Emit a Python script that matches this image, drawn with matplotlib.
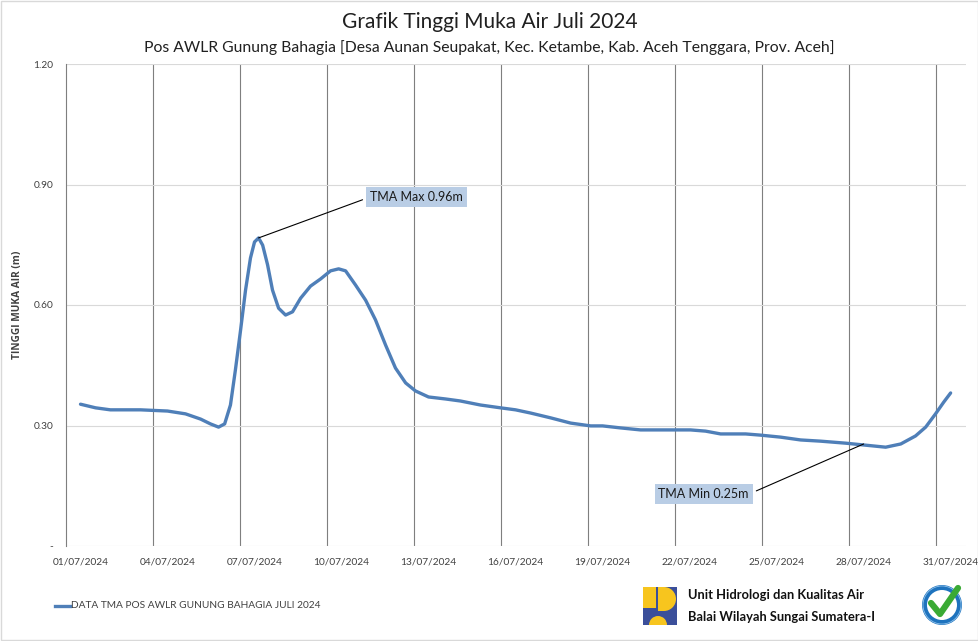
import matplotlib
matplotlib.use('Agg')
import matplotlib.pyplot as plt
from matplotlib.patches import Rectangle, Circle, Wedge

plt.rcParams['font.family'] = ['Lato', 'DejaVu Sans']

# data (day of July 2024, water level in m)
days = [1.00, 1.52, 2.03, 3.07, 4.00, 4.62, 5.14, 5.48, 5.76, 5.97, 6.17, 6.34,
        6.52, 6.69, 6.86, 7.00, 7.14, 7.28, 7.45, 7.62, 7.83, 8.07, 8.31, 8.59,
        8.93, 9.28, 9.62, 9.90, 10.14, 10.48, 10.83, 11.17, 11.52, 11.86, 12.21,
        12.55, 13.00, 13.59, 14.10, 14.79, 15.48, 16.00, 16.52, 17.21, 17.90,
        18.59, 19.00, 19.62, 20.31, 21.17, 22.03, 22.55, 23.07, 23.93, 24.45,
        25.14, 25.83, 26.52, 27.38, 28.07, 28.76, 29.28, 29.79, 30.14, 30.48,
        30.76, 31.00]
tma = [0.353, 0.344, 0.339, 0.339, 0.336, 0.329, 0.316, 0.304, 0.296, 0.304,
       0.351, 0.438, 0.538, 0.637, 0.717, 0.757, 0.767, 0.749, 0.700, 0.637,
       0.592, 0.575, 0.583, 0.617, 0.647, 0.665, 0.685, 0.690, 0.685, 0.650,
       0.612, 0.563, 0.500, 0.443, 0.406, 0.386, 0.371, 0.366, 0.361, 0.351,
       0.344, 0.339, 0.331, 0.319, 0.306, 0.299, 0.299, 0.294, 0.289, 0.289,
       0.289, 0.286, 0.279, 0.279, 0.276, 0.271, 0.264, 0.261, 0.256, 0.251,
       0.246, 0.254, 0.274, 0.296, 0.329, 0.358, 0.381]

tick_days = [1, 4, 7, 10, 13, 16, 19, 22, 25, 28, 31]
tick_labels = ['%02d/07/2024' % d for d in tick_days]
y_ticks = [0, 0.3, 0.6, 0.9, 1.2]
y_labels = ['-', '0.30', '0.60', '0.90', '1.20']

max_label = 'TMA Max 0.96m'
min_label = 'TMA Min 0.25m'
min_point = (28.0, 0.254)

W, H = 979, 641
fig = plt.figure(figsize=(W / 100, H / 100), dpi=100)


def fx(x):
    return x / W


def fy(y):
    return 1 - y / H


ax = fig.add_axes([fx(66), fy(546), fx(966) - fx(66), fy(64) - fy(546)])
line_color = '#4F7FB8'
ax.plot(days, tma, color=line_color, lw=2.4, solid_capstyle='round',
        solid_joinstyle='round', zorder=3)

ax.set_xlim(0.5, 31.53)
ax.set_ylim(0, 1.2)
ax.set_xticks(tick_days)
ax.set_xticklabels(tick_labels, fontsize=7.3, color='#404040')
ax.set_xticks([0.5 + 3 * k for k in range(1, 11)], minor=True)
ax.set_yticks(y_ticks)
ax.set_yticklabels(y_labels, fontsize=7.3, color='#404040')
ax.tick_params(axis='x', which='both', length=0, pad=8)
ax.tick_params(axis='y', which='both', length=0, pad=9)
ax.grid(axis='y', color='#d9d9d9', lw=0.8)
ax.grid(axis='x', which='minor', color='#7f7f7f', lw=0.8)
ax.set_axisbelow(True)
for s in ['top', 'right', 'bottom']:
    ax.spines[s].set_visible(False)
ax.spines['left'].set_color('#7f7f7f')
fig.text(fx(18), fy(305), 'TINGGI MUKA AIR (m)', rotation=90, ha='center',
         va='center', fontsize=7.3, fontweight='bold', color='#404040',
         family=['Open Sans', 'DejaVu Sans'])

# annotations
i_max = tma.index(max(tma))
box = dict(boxstyle='square,pad=0.3', fc='#B9CDE5', ec='none')
ax.annotate(max_label, xy=(days[i_max], tma[i_max]), xytext=(12.59, 0.869),
            fontsize=9, color='#1a1a1a', ha='center', va='center', bbox=box,
            arrowprops=dict(arrowstyle='-', color='black', lw=0.8,
                            relpos=(0, 0.5), shrinkA=3, shrinkB=0))
ax.annotate(min_label, xy=min_point, xytext=(22.48, 0.129),
            fontsize=9, color='#1a1a1a', ha='center', va='center', bbox=box,
            arrowprops=dict(arrowstyle='-', color='black', lw=0.8,
                            relpos=(1, 0.5), shrinkA=3, shrinkB=0))

# titles
fig.text(0.5, fy(22), 'Grafik Tinggi Muka Air Juli 2024', ha='center',
         va='center', fontsize=15, color='#202020')
fig.text(0.5, fy(48), 'Pos AWLR Gunung Bahagia [Desa Aunan Seupakat, Kec. Ketambe, '
         'Kab. Aceh Tenggara, Prov. Aceh]', ha='center', va='center',
         fontsize=11.3, color='#202020')

# legend
fig.add_artist(plt.Line2D([fx(55), fx(70)], [fy(606), fy(606)],
                          color=line_color, lw=2.4))
fig.text(fx(71), fy(606), 'DATA TMA POS AWLR GUNUNG BAHAGIA JULI 2024',
         ha='left', va='center', fontsize=7.3, color='#404040')

# PU logo, drawn in pixel coords (origin bottom-left)
blue = '#3B4F9A'
yellow = '#F7C51E'


def px(x, y):
    return (x, H - y)


fig.add_artist(Rectangle(px(643, 625), 34, 38, fc=blue, ec='none', transform=None))
fig.add_artist(Rectangle(px(643, 608), 13, 21, fc=yellow, ec='none', transform=None))
fig.add_artist(Rectangle(px(658, 611), 6, 24, fc=yellow, ec='none', transform=None))
fig.add_artist(Wedge(px(664, 599), 12, -90, 90, fc=yellow, ec='none', transform=None))
fig.add_artist(Wedge(px(658, 625), 9, 0, 180, fc=yellow, ec='none', transform=None))

fig.text(fx(688), fy(595), 'Unit Hidrologi dan Kualitas Air', ha='left',
         va='center', fontsize=9.3, fontweight='bold', color='#111111')
fig.text(fx(688), fy(617), 'Balai Wilayah Sungai Sumatera-I', ha='left',
         va='center', fontsize=9.3, fontweight='bold', color='#111111')

# ISO badge
fig.add_artist(Circle(px(942, 605), 20, fc='#1E73BE', ec='none', transform=None))
fig.add_artist(Circle(px(942, 605), 15, fc='white', ec='none', transform=None))
fig.add_artist(Circle(px(942, 605), 19, fill=False, ec='#8fc1ea', lw=0.6,
                      transform=None))
chk_x = [931, 940, 958]
chk_y = [H - 603, H - 614, H - 588]
fig.add_artist(plt.Line2D(chk_x, chk_y, color='#3AAA35', lw=4.5,
                          solid_capstyle='round', transform=None))

# outer border
fig.add_artist(Rectangle((0.001, 0.001), 0.998, 0.998, fill=False,
                         ec='#d9d9d9', lw=1, transform=fig.transFigure))

fig.savefig('out.png', dpi=100)
